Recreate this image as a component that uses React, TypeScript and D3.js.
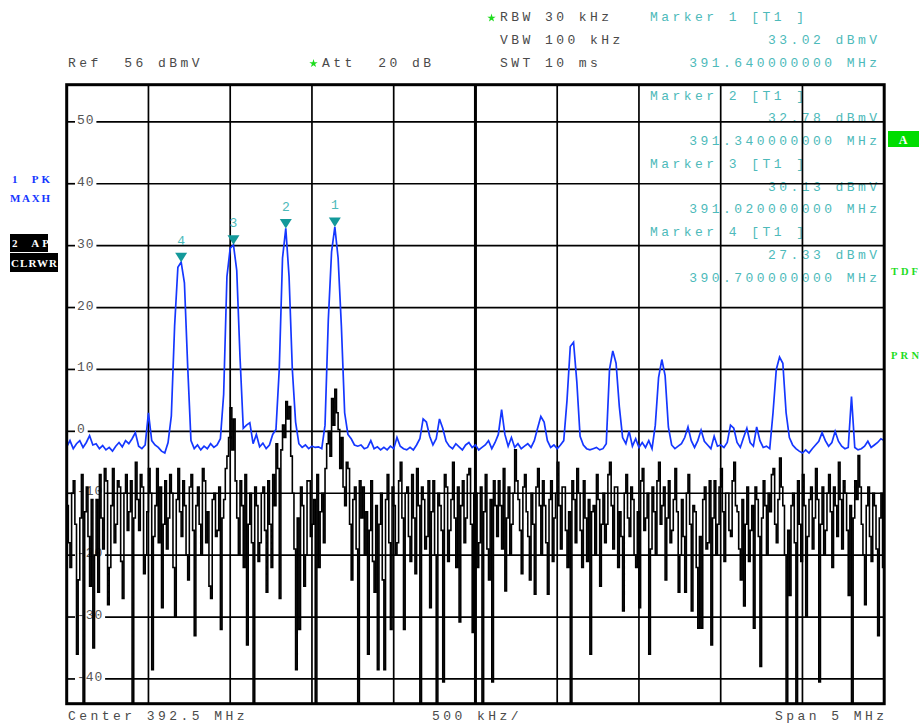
import * as d3 from 'd3';

// sweep settings
const F_START = 390;
const F_STOP = 395;
const REF_LEVEL = 56;
const BOTTOM_LEVEL = -44;

const yTicks = [50, 40, 30, 20, 10, 0, -10, -20, -30, -40];

// marker table
const markerIds = [1, 2, 3, 4];
const markerFreqs = [391.64, 391.34, 391.02, 390.7];
const markerLevels = [33.02, 32.78, 30.13, 27.33];

// trace 1: 1 PK MAXH (blue), 251 sweep points
const trace1 = [
  -2.5, -1.5, -2.8, -2, -1.5, -2.6, -1.8, -0.7, -2.2, -2,
  -2.8, -2.3, -3, -2.6, -3.2, -2.4, -1.8, -2.5, -1.5, -2,
  -1.2, -0.2, -2.4, -2.8, -2.2, 3, -1.5, -2.2, -2.6, -3.2,
  -3.5, -1.8, 2.5, 17, 26.5, 27.33, 24, 10.5, -1.5, -2.8,
  -2.2, -3, -2.4, -2.8, -2, -2.6, -2.2, -1.2, 6, 25,
  29.6, 30.13, 26, 12, 0.5, 1, 1.4, -2, -0.5, -2.5,
  -1.9, -2.8, -2.2, -0.5, 0.3, 10, 28, 32.78, 25, 10,
  1.5, -2, -2.6, -2.2, -2.8, -2.4, -2.6, -2.5, -2.8, 1,
  18, 29, 33.02, 28, 17, 3, -0.5, -1.2, -2.2, -2.4,
  -2.2, -2.8, -2.6, -1.5, -2.8, -2.5, -3, -2.6, -3, -2.4,
  -2.8, -1, -2.4, -2.8, -3, -2.6, -3, -2.2, -1.2, 2,
  1.5, -0.8, -2.2, -1.2, 2, 0.5, -1.6, -2.4, -2.8, -2,
  -2.5, -3, -2.2, -1.8, -2.6, -2.2, -3, -2.6, -2.2, -1.5,
  -2.8, -1.8, -0.5, 3.5, -0.5, -2.4, -1, -2.6, -2, -2.8,
  -2.4, -2, -2.6, -1.5, 0.5, 2.4, 1.5, -1.5, -2.6, -2.2,
  -2.8, -2.2, -1.5, 5, 13.7, 14.4, 8, -0.8, -2.2, -2.8,
  -3, -2.8, -2.6, -3, -2.8, -2, 10, 13, 11, 4,
  -1, -2, 0, -2.4, -1.2, -2.6, -1.8, -2.6, -1.5, -2.8,
  1, 8.7, 11.6, 9, 0.7, -2.2, -2.8, -2.4, -2, -1,
  0.7, -1.5, -2.6, -1.5, 0.2, -1.6, -2.2, -2.8, -0.8, -2.4,
  -2.2, -2.6, -1.8, 1, 0.5, -1.8, -2.6, -1, 0.5, -1.8,
  -2.4, 0.7, -1.5, -2.6, -2.4, -2.8, 3, 10, 12, 11,
  3, -1, -2.2, -2.8, -3.2, -3.5, -3, -3.5, -2.8, -2.2,
  -1.6, -0.2, -1.5, -2.4, -1.8, 0, -1.6, -2.4, -2.8, -2.6,
  5.6, -2.6, -3, -2.8, -2.4, -1.6, -2.6, -2.2, -1.8, -1.2,
  -1.5,
];

// trace 2: 2 AP CLRWR (black), 501 sweep points
const trace2 = [
  -12, -18, -22, -10, -8, -15, -36, -24, -14, -7, -50, -13, -9, -17, -25, -11, -35, -20, -11, -26,
  -7, -14, -19, -6, -8, -28, -22, -12, -6, -18, -15, -8, -9, -21, -27, -10, -7, -16, -13, -8,
  -50, -14, -5, -11, -16, -7, -9, -23, -20, -13, -6, -10, -38.5, -17, -12, -6, -18, -9, -28.5, -15,
  -8, -19, -14, -7, -10, -22, -30, -11, -6, -13, -17, -8, -12, -20, -24, -9, -7, -16, -33, -12,
  -9, -15, -20, -6, -8, -18, -13, -25, -27, -11, -10, -17, -16, -9, -32, -14, -11, -6, -4, -1,
  3.8, -3, 2, -8, -14, -20, -8, -12, -22, -7, -34.5, -15, -10, -18, -50, -9, -12, -21, -18, -10,
  -9, -16, -26, -8, -15, -22, -7, -12, -2, -6, -27, -3, 1, -1, 4.8, 2, 4, -4, -10, -19,
  -38.5, -14, -32, -9, -12, -25, -20, -8, -8, -17, -15, -11, -50, -7, -22, -13, -10, -18, -6, -2,
  0, -4, 5.3, 1, 6.8, 3, 0.3, -6, -1, -9, -12, -5, -6, -15, -24, -11, -9, -19, -50, -8,
  -14, -9, -20, -13, -36, -16, -8, -21, -26, -12, -38.5, -15, -10, -24, -38.5, -11, -7, -18, -32, -9,
  -12, -20, -18, -8, -5, -14, -32, -10, -9, -17, -21, -7, -14, -23, -6, -12, -50, -9, -11, -19,
  -17, -8, -28.5, -13, -8, -20, -50, -10, -12, -16, -40.5, -7, -9, -21, -16, -11, -5, -14, -22, -9,
  -30.8, -12, -8, -18, -14, -7, -6, -15, -32.5, -10, -10, -22, -18, -9, -50, -13, -7, -19, -24, -11,
  -40.5, -8, -12, -17, -8, -12, -19, -6, -25.8, -14, -9, -20, -15, -10, -3, -8, -11, -16, -23, -9,
  -7, -13, -17, -24, -10, -15, -26.3, -9, -6, -12, -20, -8, -12, -18, -26.3, -11, -8, -21, -14, -10,
  -5, -12, -19, -9, -9, -16, -22, -13, -50, -8, -11, -18, -6, -10, -16, -22, -8, -14, -21, -11,
  -36, -13, -12, -20, -7, -11, -25, -15, -10, -18, -15, -7, -5, -12, -19, -9, -9, -22, -13, -17,
  -29, -10, -7, -14, -17, -9, -11, -20, -22, -13, -28.5, -8, -6, -16, -14, -10, -36, -19, -9, -13,
  -20, -8, -5, -15, -12, -9, -24, -14, -8, -18, -16, -11, -6, -13, -26, -20, -11, -17, -26, -10,
  -7, -15, -29, -12, -13, -22, -31.8, -17, -31.8, -11, -9, -19, -18, -8, -34.5, -14, -8, -20, -15, -9,
  -6, -13, -21, -10, -10, -16, -17, -8, -5, -12, -13, -19, -24, -11, -28.2, -15, -9, -21, -16, -12,
  -31.8, -9, -11, -17, -38, -14, -8, -12, -20, -10, -13, -7, -6, -15, -18, -11, -4.3, -9, -12, -20,
  -50, -16, -26.5, -12, -10, -18, -50, -8, -15, -21, -7, -12, -30, -17, -11, -9, -19, -14, -6, -11,
  -40.5, -15, -9, -20, -16, -10, -7, -13, -22, -9, -12, -17, -5, -11, -19, -8, -10, -16, -26.5, -12,
  -50, -14, -8, -11, -3.9, -9, -15, -20, -28, -12, -9, -17, -21, -10, -12, -19, -33, -14, -10, -22,
  -17,
];

// header texts
const headerLeft = ['Ref  56 dBmV'];
const headerAtt = ['Att  20 dB'];
const headerBw = ['RBW 30 kHz', 'VBW 100 kHz', 'SWT 10 ms'];
const footer = ['Center 392.5 MHz', '500 kHz/', 'Span 5 MHz'];

const MONO = "'Liberation Mono', 'DejaVu Sans Mono', monospace";
const GREY = '#4a4a4a';
const CYAN = '#4dbaba';
const TEAL = '#13999a';
const BLUE = '#1537ff';
const GREEN = '#1ddc1d';

const left = 66.7, right = 884.2, top = 84.7, bottom = 703.7;
const LS = 3.45;

export default function App() {
  const x = d3.scaleLinear().domain([F_START, F_STOP]).range([left, right]);
  const y = d3.scaleLinear().domain([BOTTOM_LEVEL, REF_LEVEL]).range([bottom, top]);
  const freqAt = (i: number, n: number) => F_START + ((F_STOP - F_START) * i) / (n - 1);

  const blueLine = d3.line<number>()
    .x((_, i) => x(freqAt(i, trace1.length)))
    .y(d => y(d));
  const blackLine = d3.line<number>()
    .curve(d3.curveStepAfter)
    .x((_, i) => x(freqAt(i, trace2.length)))
    .y(d => y(Math.max(d, BOTTOM_LEVEL - 3)));

  const vGrid = x.ticks(10).filter(f => f > F_START && f < F_STOP);
  const star = d3.symbol(d3.symbolStar, 22)()!;

  const hdr = { fontFamily: MONO, fontSize: 13, letterSpacing: LS, whiteSpace: 'pre' as const };

  // marker info lines (marker 1 in header, 2..4 inside graticule)
  const infoRows: { text: string; anchor: 'start' | 'end'; y: number }[] = [];
  markerIds.forEach((id, k) => {
    const base = k === 0 ? 21 : 99.5 + (k - 1) * 68.25;
    const step = 22.75;
    infoRows.push({ text: `Marker ${id} [T1 ]`, anchor: 'start', y: base });
    infoRows.push({ text: `${markerLevels[k].toFixed(2)} dBmV`, anchor: 'end', y: base + step });
    infoRows.push({ text: `${markerFreqs[k].toFixed(9)} MHz`, anchor: 'end', y: base + 2 * step });
  });

  const bold = (size: number) => ({ fontFamily: "'Liberation Serif', serif", fontWeight: 'bold' as const, fontSize: size, whiteSpace: 'pre' as const });

  return (
    <svg width={919} height={724} style={{ position: 'absolute', left: 0, top: 0, background: '#fff' }}>
      <defs>
        <clipPath id="plot">
          <rect x={left} y={top} width={right - left} height={bottom - top} />
        </clipPath>
      </defs>

      {/* header */}
      <text x={68} y={67} fill={GREY} style={hdr}>{headerLeft[0]}</text>
      <path d={star} transform="translate(313.5,63.5)" fill={GREEN} />
      <text x={322} y={67} fill={GREY} style={hdr}>{headerAtt[0]}</text>
      <path d={star} transform="translate(491.5,18)" fill={GREEN} />
      {headerBw.map((t, i) => (
        <text key={t} x={500} y={21 + i * 23} fill={GREY} style={hdr}>{t}</text>
      ))}

      {/* marker readouts */}
      {infoRows.map((r, i) => (
        <text key={i} x={r.anchor === 'start' ? 650 : 877 + LS} y={r.y} textAnchor={r.anchor}
          fill={CYAN} style={hdr}>{r.text}</text>
      ))}

      {/* graticule */}
      {vGrid.map(f => (
        <line key={f} x1={x(f)} x2={x(f)} y1={top} y2={bottom} stroke="#000"
          strokeWidth={f === (F_START + F_STOP) / 2 ? 3 : 1.7} />
      ))}
      {yTicks.map(v => {
        const label = String(v);
        const gapEnd = 77 + label.length * 8.7 + 2;
        return (
          <g key={v}>
            <line x1={left} x2={75} y1={y(v)} y2={y(v)} stroke="#000" strokeWidth={1.7} />
            <line x1={gapEnd} x2={right} y1={y(v)} y2={y(v)} stroke="#000" strokeWidth={1.7} />
            <text x={77} y={y(v) + 2} fill="#555" style={{ fontFamily: MONO, fontSize: 13, letterSpacing: 0.9 }}>{label}</text>
          </g>
        );
      })}

      {/* traces */}
      <g clipPath="url(#plot)">
        <path d={blackLine(trace2)!} fill="none" stroke="#000" strokeWidth={1.6} />
        <path d={blueLine(trace1)!} fill="none" stroke={BLUE} strokeWidth={1.7} />
      </g>

      {/* markers */}
      {markerIds.map((id, k) => {
        const mx = x(markerFreqs[k]);
        const my = y(markerLevels[k]);
        return (
          <g key={id}>
            <path d={`M${mx - 6},${my - 9.5}L${mx + 6},${my - 9.5}L${mx},${my}Z`} fill={TEAL} />
            <text x={mx} y={my - 17.5} textAnchor="middle" fill={CYAN}
              style={{ fontFamily: MONO, fontSize: 13 }}>{id}</text>
          </g>
        );
      })}

      {/* frame */}
      <rect x={left} y={top} width={right - left} height={bottom - top} fill="none" stroke="#000" strokeWidth={3} />

      {/* left trace labels */}
      <text x={12} y={183} fill={BLUE} textLength={38} lengthAdjust="spacing" style={bold(11)}>1  PK</text>
      <text x={10} y={202} fill={BLUE} textLength={40} lengthAdjust="spacing" style={bold(11)}>MAXH</text>
      <rect x={10} y={234} width={38} height={18} fill="#000" />
      <text x={12} y={247} fill="#fff" textLength={37} lengthAdjust="spacing" style={bold(11)}>2  AP</text>
      <rect x={10} y={253} width={48} height={19} fill="#000" />
      <text x={11} y={266.5} fill="#fff" textLength={46} lengthAdjust="spacing" style={bold(11)}>CLRWR</text>

      {/* right side annotations */}
      <rect x={888} y={131} width={31} height={16} fill="#00dd00" />
      <text x={903} y={144} textAnchor="middle" fill="#fff" style={bold(12)}>A</text>
      <text x={891} y={275} fill={GREEN} textLength={27} lengthAdjust="spacing" style={bold(10.5)}>TDF</text>
      <text x={891} y={359} fill={GREEN} textLength={28} lengthAdjust="spacing" style={bold(10.5)}>PRN</text>

      {/* footer */}
      <text x={68} y={720} fill={GREY} style={hdr}>{footer[0]}</text>
      <text x={432} y={720} fill={GREY} style={hdr}>{footer[1]}</text>
      <text x={884 + LS} y={720} textAnchor="end" fill={GREY} style={hdr}>{footer[2]}</text>
    </svg>
  );
}
